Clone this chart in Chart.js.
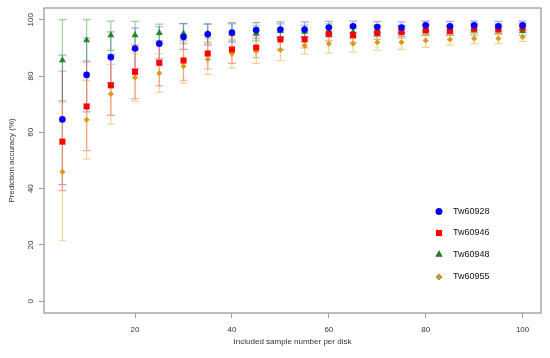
<!DOCTYPE html>
<html>
<head>
<meta charset="utf-8">
<script src="https://cdn.jsdelivr.net/npm/chart.js@4.4.0/dist/chart.umd.min.js"></script>
<style>
  html, body { margin: 0; padding: 0; background: #fff; }
</style>
</head>
<body>
<canvas id="chart" width="550" height="358"></canvas>
<script>
// included sample number per disk
const sampleNumbers = [5, 10, 15, 20, 25, 30, 35, 40, 45, 50, 55, 60, 65, 70, 75, 80, 85, 90, 95, 100];
const xTicks = [20, 40, 60, 80, 100];
const yTicks = [0, 20, 40, 60, 80, 100];

// Tw60928
const tw28 = [64.6, 80.4, 86.7, 89.8, 91.5, 93.9, 94.8, 95.4, 96.3, 96.5, 96.5, 97.2, 97.7, 97.4, 97.2, 98.0, 97.7, 98.0, 97.7, 98.0];
const tw28Lo = [41.4, 67.3, 77.7, 82.6, 86.1, 89.5, 91.0, 92.0, 93.5, 94.0, 94.0, 95.0, 95.5, 95.5, 95.3, 96.2, 96.0, 96.4, 96.0, 96.4];
const tw28Hi = [87.4, 93.5, 95.7, 97.0, 97.5, 98.6, 98.6, 99.0, 99.0, 99.2, 99.2, 99.4, 99.5, 99.3, 99.2, 99.5, 99.4, 99.5, 99.4, 99.5];

// Tw60946
const tw46 = [56.7, 69.2, 76.7, 81.5, 84.7, 85.5, 88.0, 89.4, 90.1, 93.0, 93.0, 94.9, 94.5, 95.3, 95.6, 96.2, 96.0, 97.0, 96.5, 97.2];
const tw46Lo = [39.3, 53.5, 66.0, 72.0, 76.5, 78.5, 82.5, 84.5, 86.5, 89.5, 90.0, 92.5, 92.0, 93.0, 93.5, 94.5, 94.5, 95.5, 95.0, 96.0];
const tw46Hi = [81.7, 84.9, 87.5, 91.0, 92.5, 92.5, 93.5, 94.3, 94.5, 96.5, 96.0, 97.3, 97.0, 97.6, 97.7, 98.0, 97.6, 98.5, 98.0, 98.5];

// Tw60948
const tw48 = [85.6, 92.7, 94.5, 94.5, 95.3, 95.1, 95.1, 95.4, 95.1, 96.0, 95.7, 96.0, 95.6, 95.9, 96.0, 96.3, 96.0, 96.3, 97.0, 96.0];
const tw48Lo = [71.2, 85.4, 89.1, 89.5, 91.5, 91.5, 92.0, 92.5, 92.5, 93.5, 93.5, 94.0, 93.5, 94.0, 94.0, 94.5, 94.5, 94.5, 95.0, 94.5];
const tw48Hi = [100, 100, 99.5, 99.4, 98.4, 98.6, 98.3, 98.5, 97.8, 98.5, 98.0, 98.5, 97.8, 98.0, 98.0, 98.2, 97.8, 98.1, 98.5, 97.8];

// Tw60955
const tw55 = [46.0, 64.5, 73.6, 79.5, 81.0, 83.5, 86.0, 87.9, 88.8, 89.2, 90.8, 91.5, 91.5, 92.0, 92.0, 92.6, 93.0, 93.3, 93.3, 93.9];
const tw55Lo = [21.5, 50.5, 62.9, 71.1, 74.2, 77.5, 80.6, 82.9, 84.5, 85.5, 87.8, 88.2, 88.6, 89.2, 89.5, 90.2, 91.0, 91.5, 91.5, 92.3];
const tw55Hi = [70.7, 78.4, 84.1, 88.0, 88.0, 89.5, 91.4, 93.0, 93.1, 93.0, 93.8, 94.8, 94.4, 94.8, 94.5, 95.0, 95.0, 95.1, 95.1, 95.5];

const FONT = "'Liberation Sans', Arial, sans-serif";

function series(label, vals, lo, hi, color, barColor, style, radius) {
  return {
    label: label,
    data: vals.map((v, i) => ({ x: sampleNumbers[i], y: v })),
    lo: lo,
    hi: hi,
    barColor: barColor,
    backgroundColor: color,
    borderColor: color,
    borderWidth: 0,
    pointStyle: style,
    pointRadius: radius,
    showLine: false,
  };
}

// error bars with caps, drawn under the points
const errorBars = {
  id: "errorBars",
  beforeDatasetsDraw(chart) {
    const { ctx, scales: { x, y } } = chart;
    ctx.save();
    ctx.lineWidth = 1.2;
    chart.data.datasets.forEach((ds) => {
      ctx.strokeStyle = ds.barColor;
      ds.lo.forEach((lo, i) => {
        const px = x.getPixelForValue(sampleNumbers[i]);
        const y1 = y.getPixelForValue(lo);
        const y2 = y.getPixelForValue(ds.hi[i]);
        ctx.beginPath();
        ctx.moveTo(px, y1); ctx.lineTo(px, y2);
        ctx.moveTo(px - 4, y1); ctx.lineTo(px + 4, y1);
        ctx.moveTo(px - 4, y2); ctx.lineTo(px + 4, y2);
        ctx.stroke();
      });
    });
    ctx.restore();
  },
};

// box, rotated y labels, titles and legend in R style
const frame = {
  id: "frame",
  afterDraw(chart) {
    const { ctx, chartArea: a, scales: { y } } = chart;
    ctx.save();
    ctx.strokeStyle = "#9a9a9a";
    ctx.lineWidth = 1.3;
    ctx.strokeRect(a.left, a.top, a.right - a.left, a.bottom - a.top);

    ctx.fillStyle = "#333";
    ctx.font = "8px " + FONT;
    ctx.textAlign = "center";
    ctx.textBaseline = "middle";
    yTicks.forEach((v) => {
      ctx.save();
      ctx.translate(31, y.getPixelForValue(v));
      ctx.rotate(-Math.PI / 2);
      ctx.fillText(String(v), 0, 0);
      ctx.restore();
    });

    ctx.save();
    ctx.translate(12, (a.top + a.bottom) / 2);
    ctx.rotate(-Math.PI / 2);
    ctx.fillText("Prediction accuracy (%)", 0, 0);
    ctx.restore();

    ctx.fillText("Included sample number per disk", (a.left + a.right) / 2, 342);

    // legend
    ctx.font = "9px " + FONT;
    ctx.textAlign = "left";
    ctx.fillStyle = "#111";
    const rows = [211.5, 233, 254.5, 277];
    chart.data.datasets.forEach((ds, i) => {
      Chart.helpers.drawPoint(ctx, {
        pointStyle: ds.pointStyle,
        radius: ds.pointRadius,
        borderWidth: 0,
        rotation: 0,
      }, 439, rows[i]);
      ctx.fillStyle = ds.backgroundColor;
      ctx.fill();
      ctx.fillStyle = "#111";
      ctx.fillText(ds.label, 453, rows[i]);
    });
    ctx.restore();
  },
};

new Chart(document.getElementById("chart"), {
  type: "scatter",
  data: {
    datasets: [
      series("Tw60928", tw28, tw28Lo, tw28Hi, "#0000ff", "rgba(60,60,255,0.45)", "circle", 3.3),
      series("Tw60946", tw46, tw46Lo, tw46Hi, "#ff0000", "rgba(255,50,50,0.45)", "rect", 4.3),
      series("Tw60948", tw48, tw48Lo, tw48Hi, "#1f8a1f", "rgba(40,150,40,0.45)", "triangle", 4),
      series("Tw60955", tw55, tw55Lo, tw55Hi, "#d89a10", "rgba(225,170,60,0.5)", "rectRot", 3),
    ],
  },
  options: {
    responsive: false,
    animation: false,
    layout: { padding: { top: 8, right: 9, left: 0, bottom: 0 } },
    plugins: {
      legend: { display: false },
      tooltip: { enabled: false },
    },
    scales: {
      x: {
        type: "linear",
        min: 1.2,
        max: 103.8,
        afterBuildTicks: (s) => { s.ticks = xTicks.map((v) => ({ value: v })); },
        afterFit: (s) => { s.height = 45; },
        grid: { drawOnChartArea: false, tickLength: 5, color: "#9a9a9a", lineWidth: 1 },
        border: { display: false },
        ticks: { color: "#333", font: { size: 8, family: FONT }, padding: 7, maxRotation: 0 },
      },
      y: {
        type: "linear",
        min: -4.16,
        max: 104.16,
        afterBuildTicks: (s) => { s.ticks = yTicks.map((v) => ({ value: v })); },
        afterFit: (s) => { s.width = 44; },
        grid: { drawOnChartArea: false, tickLength: 5, color: "#9a9a9a", lineWidth: 1 },
        border: { display: false },
        ticks: { display: false },
      },
    },
  },
  plugins: [errorBars, frame],
});
</script>
</body>
</html>
